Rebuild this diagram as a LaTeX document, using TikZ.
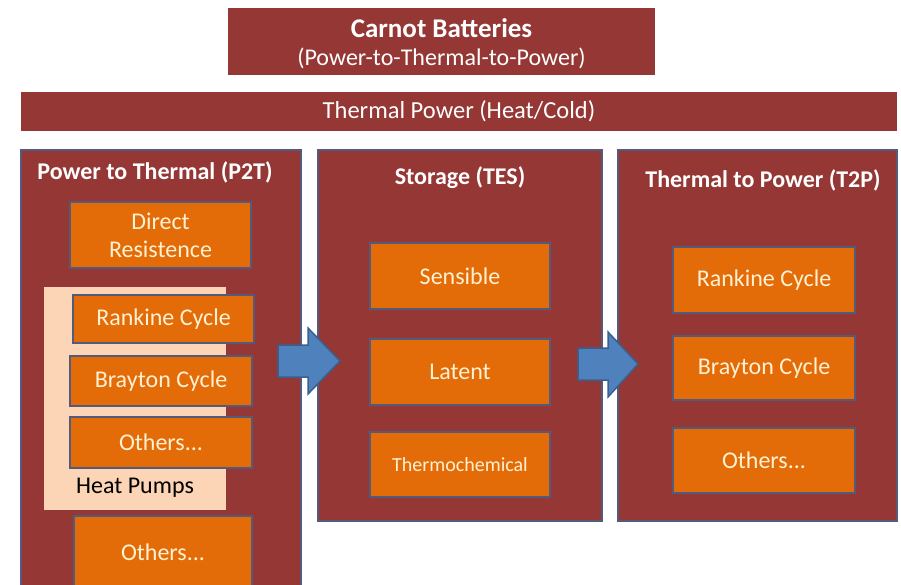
\documentclass[tikz,border=0pt]{standalone}
\usepackage{fontspec}
\setmainfont{Carlito}
\definecolor{dred}{HTML}{953735}
\definecolor{orng}{HTML}{E36C09}
\definecolor{slate}{HTML}{545A7C}
\definecolor{peach}{HTML}{FBD5B5}
\definecolor{cream}{HTML}{FFF1D2}
\definecolor{arrfill}{HTML}{4F81BD}
\definecolor{arrline}{HTML}{3A5F8F}
\begin{document}
\begin{tikzpicture}[x=1pt,y=-1pt,
  band/.style={fill=dred,draw=none,inner sep=0pt,text=white,font=\fontsize{24.5}{28}\selectfont},
  panel/.style={fill=dred,draw=slate,line width=2pt,inner sep=0pt},
  obox/.style={fill=orng,draw=slate,line width=2.5pt,inner sep=0pt,text=cream,
    font=\fontsize{24}{28}\selectfont,align=center},
  head/.style={text=white,font=\bfseries\fontsize{24}{28}\selectfont,inner sep=0pt},
  blockarrow/.style={fill=arrfill,draw=arrline,line width=1.5pt,line join=miter}]
\useasboundingbox (0,0) rectangle (901,584);
% title
\node[band,minimum width=427pt,minimum height=67pt] (title) at (441.5,41.5) {};
\node[text=white,font=\bfseries\fontsize{27}{30}\selectfont,inner sep=0pt] (t1) at (441.5,28) {Carnot Batteries};
\node[text=white,font=\fontsize{24}{28}\selectfont,inner sep=0pt] (t2) at (441.5,58) {(Power-to-Thermal-to-Power)};
% thermal power band
\node[band,minimum width=876pt,minimum height=39pt] (tp) at (459,111.5) {Thermal Power (Heat/Cold)};
% panels
\path[panel] (21,150) rectangle (301,590);
\path[panel] (318,150) rectangle (602,521);
\path[panel] (618,150) rectangle (897,521);
\node[head] (h1) at (155,172) {Power to Thermal (P2T)};
\node[head] (h2) at (460,178) {Storage (TES)};
\node[head] (h3) at (763,180) {Thermal to Power (T2P)};
% left column
\node[obox,minimum width=181pt,minimum height=66pt] (dr) at (160.5,235) {Direct\\[0pt]Resistence};
\node[fill=peach,draw=none,minimum width=182pt,minimum height=223pt,inner sep=0pt] (hp) at (135,398.5) {};
\node[anchor=west,inner sep=0pt,text=black,font=\fontsize{24}{28}\selectfont] (hpt) at (76,488) {Heat Pumps};
\node[obox,minimum width=181pt,minimum height=48pt] (lr) at (163.5,319) {Rankine Cycle};
\node[obox,minimum width=182pt,minimum height=50pt] (lb) at (161,381) {Brayton Cycle};
\node[obox,minimum width=182pt,minimum height=51pt] (lo) at (161,442.5) {Others...};
\node[obox,minimum width=178pt,minimum height=72pt] (lo2) at (163,552) {Others...};
% middle column
\node[obox,minimum width=180pt,minimum height=66pt] (ms) at (460,276) {Sensible};
\node[obox,minimum width=180pt,minimum height=66pt] (ml) at (460,372) {Latent};
\node[obox,minimum width=180pt,minimum height=65pt,font=\fontsize{20}{24}\selectfont] (mt) at (460,464.5) {Thermochemical};
% right column
\node[obox,minimum width=182pt,minimum height=66pt] (rr) at (764,280) {Rankine Cycle};
\node[obox,minimum width=182pt,minimum height=64pt] (rb) at (764,368) {Brayton Cycle};
\node[obox,minimum width=182pt,minimum height=65pt] (ro) at (764,460.5) {Others...};
% block arrows
\draw[blockarrow] (278,345) -- (308,345) -- (308,328) -- (340,361) -- (308,394) -- (308,377) -- (278,377) -- cycle;
\draw[blockarrow] (578,348) -- (608,348) -- (608,332) -- (638,364) -- (608,397) -- (608,380) -- (578,380) -- cycle;
\end{tikzpicture}
\end{document}
